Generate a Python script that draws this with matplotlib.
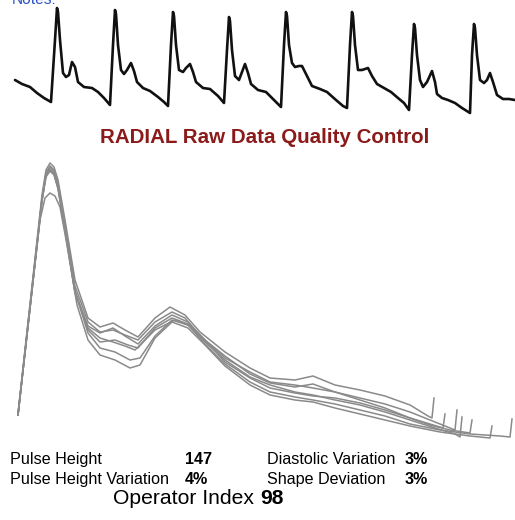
import matplotlib
matplotlib.use('Agg')
import matplotlib.pyplot as plt

# ---------------- data ----------------
# Raw radial pressure recording (sample index, relative amplitude)
raw_time = [15, 22, 30, 37, 44, 51, 55, 57, 58, 60, 63, 66, 69, 72, 75, 78, 84, 92, 98, 104, 110,
            113, 115, 116, 118, 121, 124, 127, 131, 134, 137, 143, 150, 158, 164, 168,
            171, 173, 174, 176, 179, 183, 186, 190, 193, 196, 203, 210, 218, 224,
            227, 229, 230, 232, 235, 239, 242, 245, 248, 251, 258, 266, 274, 281,
            284, 286, 287, 289, 292, 295, 299, 302, 306, 312, 320, 327, 336, 343, 347,
            350, 352, 353, 355, 358, 362, 365, 368, 372, 377, 384, 391, 398, 404, 409,
            412, 414, 415, 417, 420, 423, 427, 432, 435, 437, 442, 448, 455, 462, 470,
            472, 474, 475, 477, 480, 484, 487, 490, 493, 497, 503, 509, 515]
raw_amp = [40, 36, 33, 27, 22, 18, 80, 112, 108, 80, 47, 43, 45, 58, 53, 38, 33, 32, 28, 22, 15,
           75, 110, 106, 75, 50, 46, 50, 57, 49, 38, 32, 29, 23, 18, 14,
           75, 108, 104, 75, 50, 48, 52, 56, 48, 38, 32, 31, 24, 17,
           70, 103, 99, 70, 44, 40, 48, 56, 47, 36, 30, 28, 20, 13,
           75, 108, 104, 75, 57, 53, 54, 54, 46, 34, 31, 28, 20, 14, 12,
           75, 108, 104, 75, 50, 50, 51, 52, 44, 36, 32, 28, 22, 17, 10,
           65, 96, 92, 65, 40, 33, 38, 49, 38, 26, 22, 20, 17, 12, 7,
           65, 96, 92, 65, 40, 37, 40, 47, 38, 25, 21, 21, 20]

# Individual pulses overlaid (sample index, relative amplitude)
pulse_a_t = [18, 42, 46, 50, 54, 58, 65, 75, 88, 100, 113, 125, 138, 155, 170, 185, 200, 225,
             250, 270, 295, 313, 335, 360, 385, 410, 428, 432, 434]
pulse_a_y = [32, 250, 275, 282, 278, 265, 225, 165, 127, 118, 122, 115, 108, 127, 138, 130, 113, 93,
             77, 67, 65, 69, 60, 55, 49, 40, 29, 27, 47]

pulse_b_t = [18, 42, 46, 50, 54, 58, 65, 75, 88, 100, 113, 125, 138, 155, 172, 185, 200, 225,
             250, 270, 295, 313, 335, 360, 385, 410, 430, 450, 455, 457]
pulse_b_y = [30, 247, 272, 279, 275, 261, 220, 159, 123, 113, 115, 110, 105, 123, 133, 127, 109, 87,
             73, 63, 60, 57, 53, 47, 41, 33, 25, 17, 15, 35]

pulse_c_t = [18, 42, 46, 50, 54, 58, 65, 75, 88, 100, 113, 125, 135, 155, 175, 190, 205, 225,
             250, 270, 295, 313, 335, 360, 385, 410, 435, 455, 460, 462]
pulse_c_y = [30, 245, 269, 276, 272, 258, 216, 154, 117, 107, 103, 99, 95, 115, 125, 119, 103, 85,
             68, 60, 53, 50, 45, 40, 33, 25, 17, 11, 8, 28]

pulse_d_t = [18, 42, 46, 50, 54, 58, 65, 75, 88, 100, 113, 125, 138, 155, 172, 188, 205, 225,
             250, 270, 295, 313, 335, 360, 385, 410, 430, 450, 470, 472]
pulse_d_y = [30, 244, 268, 274, 270, 256, 214, 152, 119, 112, 117, 109, 101, 119, 130, 123, 105, 89,
             71, 62, 58, 61, 53, 45, 37, 27, 20, 15, 12, 25]

pulse_e_t = [18, 40, 45, 50, 55, 60, 67, 77, 88, 100, 115, 130, 140, 155, 172, 188, 205, 225,
             250, 270, 295, 313, 335, 360, 385, 410, 440, 470, 490, 492]
pulse_e_y = [30, 225, 247, 252, 249, 238, 200, 140, 105, 90, 85, 77, 80, 107, 123, 117, 100, 79,
             60, 50, 45, 43, 37, 31, 25, 19, 13, 9, 7, 19]

pulse_f_t = [18, 42, 46, 50, 54, 58, 65, 75, 88, 100, 115, 130, 140, 155, 172, 188, 205, 225,
             250, 270, 295, 313, 335, 360, 385, 410, 440, 470, 500, 510, 512]
pulse_f_y = [30, 246, 271, 278, 274, 260, 217, 153, 112, 97, 93, 85, 87, 109, 125, 120, 101, 81,
             63, 53, 48, 45, 41, 35, 29, 21, 15, 11, 9, 8, 26]

pulse_g_t = [18, 42, 46, 50, 54, 58, 65, 75, 88, 100, 115, 128, 138, 155, 172, 188, 205, 225,
             250, 270, 295, 313, 335, 360, 385, 410, 430, 443, 445]
pulse_g_y = [30, 245, 270, 275, 271, 257, 216, 154, 115, 103, 105, 100, 97, 117, 127, 121, 105, 83,
             67, 57, 52, 49, 47, 42, 35, 27, 21, 17, 31]

pulses = [(pulse_a_t, pulse_a_y), (pulse_b_t, pulse_b_y), (pulse_c_t, pulse_c_y),
          (pulse_d_t, pulse_d_y), (pulse_e_t, pulse_e_y), (pulse_f_t, pulse_f_y),
          (pulse_g_t, pulse_g_y)]

title = "RADIAL Raw Data Quality Control"
pulse_height = "147"
pulse_height_variation = "4%"
diastolic_variation = "3%"
shape_deviation = "3%"
operator_index = "98"

# ---------------- figure ----------------
W, H = 515, 520
plt.rcParams['font.family'] = ['Liberation Sans', 'DejaVu Sans']
fig = plt.figure(figsize=(W / 100, H / 100), dpi=100)
fig.patch.set_facecolor('white')


def fx(x):
    return x / W


def fy(y):
    return 1 - y / H


# raw trace panel
ax1 = fig.add_axes([0, fy(120), 1, 120 / H])
ax1.plot(raw_time, raw_amp, color='#111111', lw=1.9, solid_joinstyle='round',
         solid_capstyle='round')
ax1.set_xlim(0, 515)
ax1.set_ylim(0, 120)
ax1.axis('off')

# overlay panel
ax2 = fig.add_axes([0, fy(445), 1, 295 / H])
for t, y in pulses:
    ax2.plot(t, y, color='#8a8a8a', lw=1.1, solid_joinstyle='round')
ax2.set_xlim(0, 515)
ax2.set_ylim(0, 295)
ax2.axis('off')

# texts
fig.text(fx(12), fy(4), "Notes:", color='#2f55c8', fontsize=11.2, va='baseline', ha='left')
fig.text(fx(265), fy(143), title, color='#8b1a1a', fontsize=14.8, fontweight='bold',
         ha='center', va='baseline')

fs = 11.6
fig.text(fx(10), fy(464), "Pulse Height", fontsize=fs, va='baseline')
fig.text(fx(185), fy(464), pulse_height, fontsize=fs, fontweight='bold', va='baseline')
fig.text(fx(10), fy(484), "Pulse Height Variation", fontsize=fs, va='baseline')
fig.text(fx(185), fy(484), pulse_height_variation, fontsize=fs, fontweight='bold', va='baseline')
fig.text(fx(267), fy(464), "Diastolic Variation", fontsize=fs, va='baseline')
fig.text(fx(405), fy(464), diastolic_variation, fontsize=fs, fontweight='bold', va='baseline')
fig.text(fx(267), fy(484), "Shape Deviation", fontsize=fs, va='baseline')
fig.text(fx(405), fy(484), shape_deviation, fontsize=fs, fontweight='bold', va='baseline')

renderer = fig.canvas.get_renderer()
op = fig.text(fx(113), fy(504), "Operator Index ", fontsize=15.2, va='baseline')
bb = op.get_window_extent(renderer=renderer)
fig.text(bb.x1 / fig.bbox.width, fy(504), operator_index, fontsize=15.2,
         fontweight='bold', va='baseline')

fig.savefig('out.png', dpi=100, facecolor='white')
